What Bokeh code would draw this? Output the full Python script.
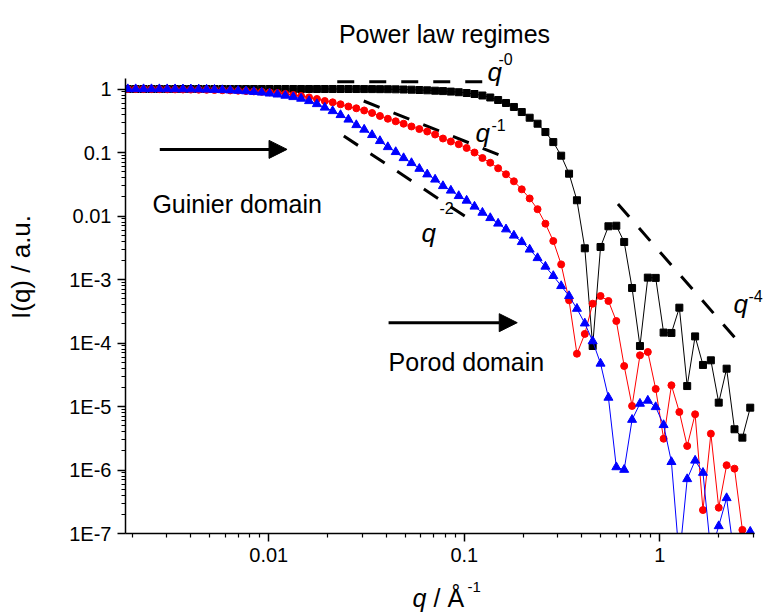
import math
from bokeh.plotting import figure
from bokeh.layouts import column
from bokeh.models import (Label, Arrow, NormalHead, FixedTicker,
                          CustomJSTickFormatter, Range1d)
from bokeh.embed import file_html
from bokeh.resources import INLINE

# ---------------- data ----------------
q = [0.001901, 0.002086, 0.002288, 0.002511, 0.002755, 0.003023, 0.003317, 0.003640,
     0.003994, 0.004382, 0.004808, 0.005276, 0.005789, 0.006352, 0.006970, 0.007648,
     0.008391, 0.009207, 0.01010, 0.01108, 0.01216, 0.01335, 0.01464, 0.01607,
     0.01763, 0.01934, 0.02122, 0.02329, 0.02555, 0.02804, 0.03076, 0.03375,
     0.03704, 0.04064, 0.04459, 0.04893, 0.05369, 0.05891, 0.06463, 0.07092,
     0.07780, 0.08537, 0.09368, 0.1028, 0.1128, 0.1238, 0.1358, 0.1490,
     0.1635, 0.1794, 0.1968, 0.2160, 0.2370, 0.2600, 0.2853, 0.3130,
     0.3435, 0.3769, 0.4135, 0.4537, 0.4977, 0.5461, 0.5993, 0.6575,
     0.7215, 0.7917, 0.8686, 0.9530, 1.046, 1.147, 1.259, 1.381,
     1.516, 1.663, 1.825, 2.002, 2.197, 2.411, 2.645, 2.902]

I_black = [1.0, 1.0, 1.0, 1.0, 1.0, 1.0, 1.0, 1.0,
           1.0, 1.0, 1.0, 1.0, 1.0, 1.0, 1.0, 1.0,
           1.0, 1.0, 1.0, 1.0, 1.0, 1.0, 1.0, 1.0,
           1.0, 1.0, 1.0, 1.0, 1.0, 0.999, 0.998, 0.997,
           0.995, 0.993, 0.989, 0.982, 0.975, 0.964, 0.954, 0.940,
           0.927, 0.910, 0.890, 0.865, 0.834, 0.790, 0.735, 0.671,
           0.602, 0.521, 0.434, 0.353, 0.284, 0.210, 0.146, 0.0891,
           0.0464, 0.0177, 3.10e-3, 8.97e-5, 3.25e-3, 6.89e-3, 7.03e-3, 3.90e-3,
           7.35e-4, 8.97e-5, 1.07e-3, 1.06e-3, 1.46e-4, 1.44e-4, 3.60e-4, 2.10e-5,
           1.27e-4, 4.51e-5, 5.34e-5, 1.15e-5, 3.94e-5, 4.38e-6, 3.23e-6, 9.58e-6]

I_red = [0.997, 0.997, 0.997, 0.996, 0.994, 0.989, 0.986, 0.982,
         0.979, 0.975, 0.971, 0.964, 0.957, 0.950, 0.940, 0.930,
         0.917, 0.903, 0.884, 0.862, 0.837, 0.807, 0.776, 0.737,
         0.696, 0.647, 0.617, 0.574, 0.530, 0.497, 0.459, 0.419,
         0.376, 0.340, 0.310, 0.284, 0.257, 0.234, 0.214, 0.192,
         0.166, 0.149, 0.135, 0.118, 0.100, 0.0819, 0.0691, 0.0564,
         0.0454, 0.0352, 0.0263, 0.0189, 0.0128, 7.57e-3, 4.04e-3, 1.73e-3,
         4.70e-4, 6.78e-5, 1.39e-4, 4.16e-4, 5.50e-4, 4.59e-4, 2.22e-4, 4.34e-5,
         1.02e-5, 6.40e-5, 7.22e-5, 1.89e-5, 3.11e-6, 2.16e-5, 8.19e-6, 2.39e-6,
         7.54e-6, 2.34e-7, 3.73e-6, 2.55e-7, 1.19e-6, 1.05e-6, 1.14e-7, 3.0e-8]

I_blue = [0.997, 0.997, 0.997, 0.997, 0.997, 0.996, 0.995, 0.993,
          0.991, 0.989, 0.982, 0.975, 0.964, 0.954, 0.940, 0.923,
          0.903, 0.881, 0.852, 0.822, 0.787, 0.748, 0.706, 0.647,
          0.580, 0.511, 0.450, 0.390, 0.331, 0.271, 0.230, 0.189,
          0.152, 0.122, 0.102, 0.0819, 0.0684, 0.0556, 0.0454, 0.0376,
          0.0297, 0.0252, 0.0207, 0.0175, 0.0141, 0.0113, 9.31e-3, 7.62e-3,
          6.18e-3, 4.93e-3, 3.90e-3, 2.97e-3, 2.18e-3, 1.60e-3, 1.14e-3, 7.91e-4,
          5.50e-4, 3.47e-4, 2.04e-4, 1.07e-4, 4.75e-5, 1.38e-5, 1.11e-6, 1.01e-6,
          6.19e-6, 1.11e-5, 1.24e-5, 9.82e-6, 5.12e-6, 1.34e-6, 4.0e-8, 7.21e-7,
          1.41e-6, 9.06e-7, 5.0e-8, 1.31e-7, 3.62e-7, 4.0e-8, 5.0e-8, 1.07e-7]

# power-law guide lines (start, end)
guide_q0_x = [0.0224, 0.131]
guide_q0_y = [1.30, 1.30]
guide_q1_x = [0.0306, 0.156]
guide_q1_y = [0.647, 0.0881]
guide_q2_x = [0.0242, 0.1035]
guide_q2_y = [0.182, 0.0094]
guide_q4_x = [0.611, 2.51]
guide_q4_y = [0.01545, 1.07e-4]

x_major = [0.01, 0.1, 1]
y_major = [1e-7, 1e-6, 1e-5, 1e-4, 1e-3, 0.01, 0.1, 1]
x_axis_span = (0.00185, 3.05)
y_axis_span = (1e-7, 1.49)

FONT = "Liberation Sans"

# frame reaches the top and right canvas edges so that the texts there are not
# clipped; the axis lines are limited to their spans with bounds
p = figure(width=765, height=577, x_axis_type="log", y_axis_type="log",
           x_range=Range1d(0.00185, 3.473), y_range=Range1d(1e-7, 24.76),
           output_backend="svg", toolbar_location=None,
           min_border_left=125, min_border_right=0,
           min_border_top=0, min_border_bottom=44)
p.outline_line_color = None
p.xgrid.grid_line_color = None
p.ygrid.grid_line_color = None
p.background_fill_color = "white"
p.border_fill_color = "white"

fmt = CustomJSTickFormatter(code="""
if (tick >= 0.009) { return String(+tick.toPrecision(3)); }
return '1E' + Math.round(Math.log10(tick));
""")

p.xaxis.ticker = FixedTicker(ticks=x_major,
                             minor_ticks=[m * 10.0 ** e for e in (-3, -2, -1, 0) for m in range(2, 10)
                                          if x_axis_span[0] <= m * 10.0 ** e <= x_axis_span[1]])
p.yaxis.ticker = FixedTicker(ticks=y_major,
                             minor_ticks=[m * 10.0 ** e for e in range(-7, 1) for m in range(2, 10)
                                          if y_axis_span[0] <= m * 10.0 ** e <= y_axis_span[1]])
p.xaxis.bounds = x_axis_span
p.yaxis.bounds = y_axis_span
for ax in (p.xaxis[0], p.yaxis[0]):
    ax.formatter = fmt
    ax.axis_line_width = 1.5
    ax.axis_line_color = "black"
    ax.major_tick_line_width = 1.5
    ax.minor_tick_line_width = 1.2
    ax.major_tick_line_color = "black"
    ax.minor_tick_line_color = "black"
    ax.major_tick_out = 8
    ax.major_tick_in = 0
    ax.minor_tick_out = 4
    ax.minor_tick_in = 0
    ax.major_label_text_font = FONT
    ax.major_label_text_font_size = "20px"
    ax.major_label_text_color = "black"
p.xaxis.major_label_standoff = 6
p.yaxis.major_label_standoff = 6
p.yaxis.axis_label = "I(q) / a.u."
p.yaxis.axis_label_text_font = FONT
p.yaxis.axis_label_text_font_size = "26px"
p.yaxis.axis_label_text_font_style = "normal"
p.yaxis.axis_label_text_color = "black"
p.yaxis.axis_label_standoff = 30

# guides
for gx, gy in ((guide_q0_x, guide_q0_y), (guide_q1_x, guide_q1_y),
               (guide_q2_x, guide_q2_y), (guide_q4_x, guide_q4_y)):
    p.line(gx, gy, line_color="black", line_width=3, line_dash="17 15")

# series (clipped at the bottom axis by the frame)
p.line(q, I_black, line_color="black", line_width=1)
p.scatter(q, I_black, marker="square", size=7, fill_color="black", line_color="black")
p.line(q, I_red, line_color="red", line_width=1)
p.scatter(q, I_red, marker="circle", size=7, fill_color="red", line_color="red")
p.line(q, I_blue, line_color="blue", line_width=1)
p.scatter(q, I_blue, marker="triangle", size=9, fill_color="blue", line_color="blue")

# arrows
p.add_layout(Arrow(end=NormalHead(size=18, fill_color="black", line_color="black"),
                   x_start=0.00277, y_start=0.112, x_end=0.0124, y_end=0.112,
                   line_width=3, line_color="black"))
p.add_layout(Arrow(end=NormalHead(size=18, fill_color="black", line_color="black"),
                   x_start=0.041, y_start=2.09e-4, x_end=0.1866, y_end=2.09e-4,
                   line_width=3, line_color="black"))


def lab(fig, x, y, text, size="24px", style="normal", **kw):
    fig.add_layout(Label(x=x, y=y, text=text, text_font=FONT, text_font_size=size,
                         text_font_style=style, text_color="black",
                         text_baseline=kw.pop("baseline", "alphabetic"),
                         text_align=kw.pop("align", "left"), **kw))


lab(p, 0.00254, 0.01545, "Guinier domain", "25px")
lab(p, 0.0410, 5.02e-5, "Porod domain", "25px")

# q^-n labels
lab(p, 0.1314, 1.85, "q", "26px", "italic")
lab(p, 0.1496, 2.95, "-0", "16px")
lab(p, 0.114, 0.202, "q", "26px", "italic")
lab(p, 0.1377, 0.27, "-1", "16px")
lab(p, 0.0604, 5.4e-3, "q", "26px", "italic")
lab(p, 0.0747, 0.0135, "-2", "16px")
lab(p, 2.38, 4.1e-4, "q", "26px", "italic")
lab(p, 2.84, 5.5e-4, "-4", "16px")

# title (screen units: x from frame left, y from frame bottom)
lab(p, 444 - 125, 533 - 33, "Power law regimes", "25px", x_units="screen", y_units="screen",
    align="center")

# strip below for the x-axis label; its frame is aligned with the main frame,
# so its x range is given in canvas pixels from 125 to 765
p2 = figure(width=765, height=35, x_range=Range1d(125, 765), y_range=Range1d(0, 35),
            output_backend="svg", toolbar_location=None,
            min_border_left=125, min_border_right=0, min_border_top=0, min_border_bottom=0)
p2.axis.visible = False
p2.xgrid.grid_line_color = None
p2.ygrid.grid_line_color = None
p2.outline_line_color = None
p2.background_fill_color = "white"
p2.border_fill_color = "white"
lab(p2, 412, 15, "q", "25px", "italic")
lab(p2, 433, 15, "/ Å", "25px")
lab(p2, 467, 26, "-1", "15px")

layout = column(p, p2, spacing=0)
open("out.html", "w").write(file_html(layout, INLINE))
